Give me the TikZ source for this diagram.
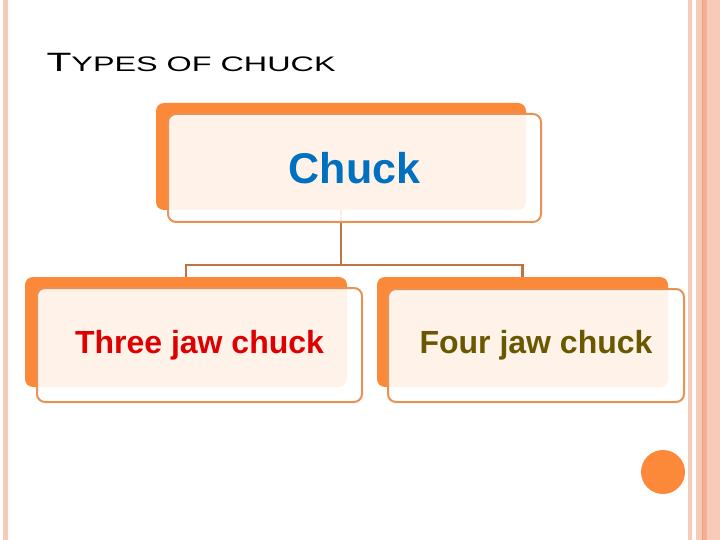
\documentclass[tikz,border=0pt]{standalone}
\usepackage{fontspec}
\setmainfont{Liberation Sans}
\usetikzlibrary{positioning}
\definecolor{OrangeB}{RGB}{251,137,57}
\definecolor{OrangeL}{RGB}{232,146,84}
\definecolor{LinkBr}{RGB}{192,116,64}
\definecolor{PinkS}{RGB}{248,202,184}
\definecolor{PinkD}{RGB}{240,160,120}
\definecolor{BlueT}{RGB}{0,112,192}
\definecolor{RedT}{RGB}{220,0,0}
\definecolor{OliveT}{RGB}{106,88,0}

\begin{document}
\begin{tikzpicture}[x=1pt,y=-1pt,
    back/.style={fill=OrangeB,rounded corners=8pt,inner sep=0pt},
    front/.style={draw=OrangeL,line width=2pt,fill=white,fill opacity=0.89,
      text opacity=1,rounded corners=8pt,inner sep=0pt,font=\bfseries\fontsize{32}{36}\selectfont},
    conn/.style={draw=LinkBr,line width=2.5pt}]
  \useasboundingbox (0,0) rectangle (720,540);
  % side strips
  \fill[PinkS] (3,0) rectangle (8,540);
  \fill[PinkS] (688,0) rectangle (692,540);
  \fill[PinkS] (696,0) rectangle (720,540);
  \fill[PinkD!60!PinkS] (703,0) rectangle (707,540);
  \draw[PinkD,line width=1pt] (702.5,0) -- (702.5,540);

  \node[anchor=base west] (title) at (43,72)
    {\scalebox{1.54}[1]{\fontsize{26.5}{30}\selectfont T\fontsize{21}{24}\selectfont YPES OF CHUCK}};

  \node[back,minimum width=370pt,minimum height=107pt] (chuckback) at (341,156.5) {};
  \node[back,minimum width=322pt,minimum height=110pt] (threeback) at (186,332) {};
  \node[back,minimum width=291pt,minimum height=110pt] (fourback) at (522.5,332) {};

  \coordinate (bus) at (341,265);
  \draw[conn] (chuckback.south) -- (bus);
  \draw[conn] (threeback.north) |- (bus) -| (fourback.north);

  \node[front,minimum width=373pt,minimum height=108pt,text=BlueT,
    font=\bfseries\fontsize{43}{48}\selectfont] (chuck) at (354.5,168) {Chuck};
  \node[front,minimum width=325pt,minimum height=114pt,text=RedT] (three) at (199.5,345) {Three jaw chuck};
  \node[front,minimum width=296pt,minimum height=113pt,text=OliveT] (four) at (536,345.5) {Four jaw chuck};

  \node[circle,fill=OrangeB,minimum size=44pt,inner sep=0pt] (dot) at (663,472) {};
\end{tikzpicture}
\end{document}
